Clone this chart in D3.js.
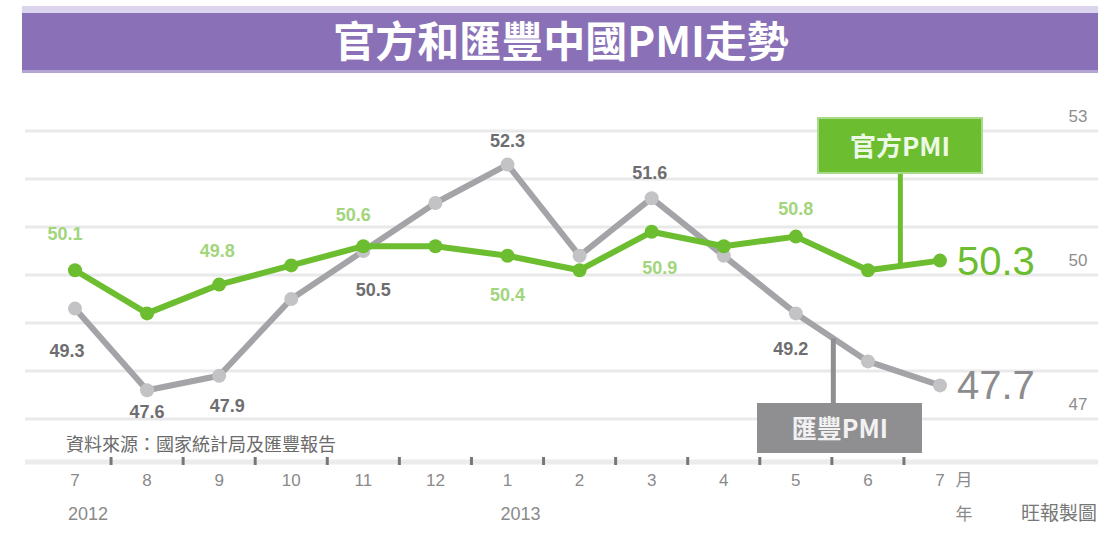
<!DOCTYPE html>
<html><head><meta charset="utf-8">
<script src="https://cdn.jsdelivr.net/npm/d3@7"></script>
<style>
html,body{margin:0;padding:0;background:#fff;}
svg{display:block;}
</style></head>
<body>
<svg id="c" width="1117" height="540"></svg>
<script>
const months = ["7","8","9","10","11","12","1","2","3","4","5","6","7"];
const years = [{label:"2012", idx:0},{label:"2013", idx:6}];
const official = [50.1,49.2,49.8,50.2,50.6,50.6,50.4,50.1,50.9,50.6,50.8,50.1,50.3];
const hsbc = [49.3,47.6,47.9,49.5,50.5,51.5,52.3,50.4,51.6,50.4,49.2,48.2,47.7];
const yTicks = [47,48,49,50,51,52,53];
const yTickLabels = [53,50,47];
const title = "官方和匯豐中國PMI走勢";
const source = "資料來源：國家統計局及匯豐報告";
const credit = "旺報製圖";
const officialName = "官方PMI";
const hsbcName = "匯豐PMI";

const svg = d3.select("#c");
const GREEN = "#6cbd2f", GREEN_LT = "#a2d57c", GRAY = "#a4a4a8", GRAY_DK = "#6e6e70";
const CJK = "'Noto Sans CJK TC','Noto Sans CJK SC',sans-serif";
const NUM = "'Liberation Sans',Arial,sans-serif";

const x = d3.scalePoint().domain(d3.range(months.length)).range([75, 940]);
const y = d3.scaleLinear().domain([47,53]).range([419,131]);

// title bar
svg.append("rect").attr("x",22).attr("y",6).attr("width",1076).attr("height",10).attr("fill","#dcd3ec");
svg.append("rect").attr("x",22).attr("y",13).attr("width",1076).attr("height",59).attr("fill","#8a71b7");
svg.append("rect").attr("x",22).attr("y",70).attr("width",1076).attr("height",3).attr("fill","#b3a4d3");
svg.append("text").attr("x",561).attr("y",57).attr("text-anchor","middle")
  .attr("font-family",CJK).attr("font-weight","bold").attr("font-size",42).attr("fill","#fff").text(title);

// gridlines
svg.append("g").selectAll("line").data(yTicks).join("line")
  .attr("x1",25).attr("x2",1098).attr("y1",d=>y(d)).attr("y2",d=>y(d))
  .attr("stroke","#e9e9e9").attr("stroke-width",3);

// right axis labels
svg.append("g").selectAll("text").data(yTickLabels).join("text")
  .attr("x",1078).attr("y",d=>y(d)-9).attr("text-anchor","middle")
  .attr("font-family",NUM).attr("font-size",17).attr("fill","#8e8e8e").text(d=>d);

// bottom axis band
svg.append("line").attr("x1",25).attr("x2",1098).attr("y1",462).attr("y2",462)
  .attr("stroke","#ececec").attr("stroke-width",5);
const step = x.step();
svg.append("g").selectAll("line").data(d3.range(months.length-1)).join("line")
  .attr("x1",d=>x(d)+step/2).attr("x2",d=>x(d)+step/2).attr("y1",457).attr("y2",465)
  .attr("stroke","#777").attr("stroke-width",3);
svg.append("g").selectAll("text").data(months).join("text")
  .attr("x",(d,i)=>x(i)).attr("y",486).attr("text-anchor","middle")
  .attr("font-family",NUM).attr("font-size",17).attr("fill","#8a8a8a").text(d=>d);
svg.append("text").attr("x",x(12)+24).attr("y",486).attr("text-anchor","middle")
  .attr("font-family",CJK).attr("font-size",17).attr("fill","#8a8a8a").text("月");
svg.append("text").attr("x",x(12)+24).attr("y",520).attr("text-anchor","middle")
  .attr("font-family",CJK).attr("font-size",17).attr("fill","#8a8a8a").text("年");
svg.append("g").selectAll("text").data(years).join("text")
  .attr("x",d=>x(d.idx)-7).attr("y",520)
  .attr("font-family",NUM).attr("font-size",18).attr("fill","#8a8a8a").text(d=>d.label);
svg.append("text").attr("x",1097).attr("y",520).attr("text-anchor","end")
  .attr("font-family",CJK).attr("font-size",19).attr("fill","#777").text(credit);
svg.append("text").attr("x",66).attr("y",451)
  .attr("font-family",CJK).attr("font-size",18).attr("fill","#6a6a6a").text(source);

// lines
const line = d3.line().x((d,i)=>x(i)).y(d=>y(d));
svg.append("path").datum(hsbc).attr("d",line).attr("fill","none")
  .attr("stroke",GRAY).attr("stroke-width",6).attr("stroke-linejoin","round");
svg.append("g").selectAll("circle").data(hsbc).join("circle")
  .attr("cx",(d,i)=>x(i)).attr("cy",d=>y(d)).attr("r",7).attr("fill","#c3c3c6");

svg.append("path").datum(official).attr("d",line).attr("fill","none")
  .attr("stroke",GREEN).attr("stroke-width",6).attr("stroke-linejoin","round");
svg.append("g").selectAll("circle").data(official).join("circle")
  .attr("cx",(d,i)=>x(i)).attr("cy",d=>y(d)).attr("r",7).attr("fill",GREEN);

// callouts
function interp(arr, t){ const i=Math.floor(t), f=t-i; return arr[i]+(arr[i+1]-arr[i])*f; }
const gT = 11.45, gx = x(11)+step*0.45;
svg.append("line").attr("x1",gx).attr("x2",gx).attr("y1",172).attr("y2",y(interp(official,gT)))
  .attr("stroke",GREEN).attr("stroke-width",5);
svg.append("rect").attr("x",818).attr("y",118).attr("width",164).attr("height",55).attr("fill",GREEN);
svg.append("rect").attr("x",818).attr("y",118).attr("width",164).attr("height",55).attr("fill","none")
  .attr("stroke","#a9d98a").attr("stroke-width",2);
svg.append("text").attr("x",900).attr("y",156).attr("text-anchor","middle")
  .attr("font-family",CJK).attr("font-weight","bold").attr("font-size",26).attr("fill","#eef8e6").text(officialName);

const hT = 10.52, hx = x(10)+step*0.52;
svg.append("line").attr("x1",hx).attr("x2",hx).attr("y1",404).attr("y2",y(interp(hsbc,hT)))
  .attr("stroke","#8f8f92").attr("stroke-width",5);
svg.append("rect").attr("x",757).attr("y",403).attr("width",165).attr("height",50).attr("fill","#8f8f92");
svg.append("text").attr("x",840).attr("y",438).attr("text-anchor","middle")
  .attr("font-family",CJK).attr("font-weight","bold").attr("font-size",25).attr("fill","#f2f2f2").text(hsbcName);

// data labels
const offLabels = [{i:0,dx:-10,dy:-30},{i:2,dx:-2,dy:-28},{i:4,dx:-10,dy:-25},{i:6,dx:0,dy:45},{i:8,dx:8,dy:42},{i:10,dx:0,dy:-22}];
const hsbLabels = [{i:0,dx:-8,dy:48},{i:1,dx:0,dy:28},{i:2,dx:8,dy:36},{i:4,dx:10,dy:45},{i:6,dx:0,dy:-18},{i:8,dx:-2,dy:-19},{i:10,dx:-5,dy:42}];
svg.append("g").selectAll("text").data(offLabels).join("text")
  .attr("x",d=>x(d.i)+d.dx).attr("y",d=>y(official[d.i])+d.dy).attr("text-anchor","middle")
  .attr("font-family",NUM).attr("font-weight","bold").attr("font-size",18).attr("fill",GREEN_LT)
  .text(d=>official[d.i].toFixed(1));
svg.append("g").selectAll("text").data(hsbLabels).join("text")
  .attr("x",d=>x(d.i)+d.dx).attr("y",d=>y(hsbc[d.i])+d.dy).attr("text-anchor","middle")
  .attr("font-family",NUM).attr("font-weight","bold").attr("font-size",18).attr("fill",GRAY_DK)
  .text(d=>hsbc[d.i].toFixed(1));

// end labels
const last = months.length-1;
svg.append("text").attr("x",x(last)+17).attr("y",y(official[last])+14)
  .attr("font-family",NUM).attr("font-size",40).attr("fill",GREEN).text(official[last].toFixed(1));
svg.append("text").attr("x",x(last)+17).attr("y",y(hsbc[last])+14)
  .attr("font-family",NUM).attr("font-size",40).attr("fill","#8c8c8e").text(hsbc[last].toFixed(1));
</script>
</body></html>
